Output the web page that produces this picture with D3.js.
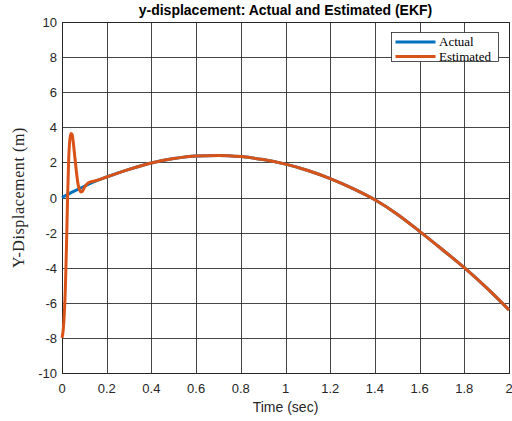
<!DOCTYPE html>
<html lang="en">
<head>
<meta charset="UTF-8">
<title>y-displacement: Actual and Estimated (EKF)</title>
<script src="https://d3js.org/d3.v7.min.js"></script>
<style>
  body { margin: 0; background: #fff; }
  svg { display: block; font-family: "Liberation Sans", Arial, sans-serif; }
</style>
</head>
<body>
<svg width="512" height="421"></svg>
<script>
// values
const actualT = [0, 0.05, 0.1, 0.15, 0.2, 0.3, 0.4, 0.5, 0.6, 0.7, 0.8, 0.9, 1.0, 1.1, 1.2, 1.3, 1.4, 1.5, 1.6, 1.7, 1.8, 1.9, 2.0];
const actualY = [0, 0.33, 0.64, 0.93, 1.17, 1.6, 1.97, 2.22, 2.37, 2.4, 2.33, 2.16, 1.9, 1.54, 1.08, 0.52, -0.13, -0.95, -1.93, -2.95, -4.0, -5.15, -6.4];

const estT = [0, 0.005, 0.01, 0.015, 0.02, 0.025, 0.03, 0.035, 0.04, 0.045, 0.05, 0.055, 0.06, 0.065, 0.07, 0.075, 0.08, 0.085, 0.09, 0.095, 0.1, 0.11, 0.12, 0.13, 0.15, 0.2, 0.3, 0.4, 0.5, 0.6, 0.7, 0.8, 0.9, 1.0, 1.1, 1.2, 1.3, 1.4, 1.5, 1.6, 1.7, 1.8, 1.9, 2.0];
const estY = [-8, -7.6, -6.7, -5.2, -2.8, 0, 2.2, 3.3, 3.65, 3.6, 3.2, 2.6, 2.0, 1.4, 0.9, 0.58, 0.4, 0.32, 0.34, 0.44, 0.57, 0.74, 0.85, 0.9, 0.95, 1.17, 1.6, 1.97, 2.22, 2.37, 2.4, 2.33, 2.16, 1.9, 1.54, 1.08, 0.52, -0.13, -0.95, -1.93, -2.95, -4.0, -5.15, -6.4];

const xTicks = [0, 0.2, 0.4, 0.6, 0.8, 1, 1.2, 1.4, 1.6, 1.8, 2];
const yTicks = [-10, -8, -6, -4, -2, 0, 2, 4, 6, 8, 10];
const seriesNames = ["Actual", "Estimated"];
const seriesColors = ["#0072BD", "#D95319"];

const svg = d3.select("svg");
const plotL = 62, plotR = 509, plotT = 22, plotB = 373;

const x = d3.scaleLinear().domain([0, 2]).range([plotL, plotR]);
const y = d3.scaleLinear().domain([-10, 10]).range([plotB, plotT]);

// grid
svg.append("g").selectAll("line")
    .data(xTicks)
    .enter().append("line")
    .attr("x1", d => Math.round(x(d)) + 0.5).attr("x2", d => Math.round(x(d)) + 0.5)
    .attr("y1", plotT).attr("y2", plotB)
    .attr("stroke", "#262626").attr("stroke-opacity", 0.85);

svg.append("g").selectAll("line")
    .data(yTicks)
    .enter().append("line")
    .attr("y1", d => Math.round(y(d)) + 0.5).attr("y2", d => Math.round(y(d)) + 0.5)
    .attr("x1", plotL).attr("x2", plotR)
    .attr("stroke", "#262626").attr("stroke-opacity", 0.85);

// axes box
svg.append("rect")
    .attr("x", plotL + 0.5).attr("y", plotT + 0.5)
    .attr("width", plotR - plotL).attr("height", plotB - plotT)
    .attr("fill", "none").attr("stroke", "#262626");

// tick labels
svg.append("g").selectAll("text")
    .data(xTicks)
    .enter().append("text")
    .attr("x", d => x(d)).attr("y", plotB + 20)
    .attr("text-anchor", "middle")
    .attr("font-size", 13).attr("fill", "#262626")
    .text(d => d);

svg.append("g").selectAll("text")
    .data(yTicks)
    .enter().append("text")
    .attr("x", plotL - 5).attr("y", d => y(d) + 5)
    .attr("text-anchor", "end")
    .attr("font-size", 13).attr("fill", "#262626")
    .text(d => d);

// lines
const line = d3.line()
    .x(d => x(d[0]))
    .y(d => y(d[1]))
    .curve(d3.curveMonotoneX);

const plot = svg.append("g");
plot.append("path")
    .datum(d3.zip(actualT, actualY))
    .attr("d", line)
    .attr("fill", "none")
    .attr("stroke", seriesColors[0])
    .attr("stroke-width", 3);

plot.append("path")
    .datum(d3.zip(estT, estY))
    .attr("d", line)
    .attr("fill", "none")
    .attr("stroke", seriesColors[1])
    .attr("stroke-width", 3)
    .attr("stroke-linejoin", "round");

// title and axis labels
svg.append("text")
    .attr("x", (plotL + plotR) / 2).attr("y", 15)
    .attr("text-anchor", "middle")
    .attr("font-size", 14).attr("font-weight", "bold")
    .attr("fill", "#000")
    .text("y-displacement: Actual and Estimated (EKF)");

svg.append("text")
    .attr("x", (plotL + plotR) / 2).attr("y", 412)
    .attr("text-anchor", "middle")
    .attr("font-size", 14).attr("fill", "#262626")
    .text("Time (sec)");

svg.append("text")
    .attr("transform", `translate(24,${(plotT + plotB) / 2}) rotate(-90)`)
    .attr("text-anchor", "middle")
    .attr("font-family", "'Liberation Serif', 'DejaVu Serif', serif")
    .attr("font-size", 16).attr("letter-spacing", 0.6).attr("fill", "#262626")
    .text("Y-Displacement  (m)");

// legend
const lg = svg.append("g").attr("transform", "translate(391.5,32.5)");
lg.append("rect")
    .attr("width", 107).attr("height", 29)
    .attr("fill", "#fff").attr("stroke", "#262626").attr("stroke-width", 0.8);

seriesNames.forEach((name, i) => {
    const yy = 9.5 + i * 14.5;
    lg.append("line")
        .attr("x1", 4).attr("x2", 44)
        .attr("y1", yy).attr("y2", yy)
        .attr("stroke", seriesColors[i]).attr("stroke-width", 3);
    lg.append("text")
        .attr("x", 47.5).attr("y", yy + 4)
        .attr("font-family", "'Liberation Serif', 'DejaVu Serif', serif")
        .attr("font-size", 13).attr("fill", "#000")
        .text(name);
});
</script>
</body>
</html>
